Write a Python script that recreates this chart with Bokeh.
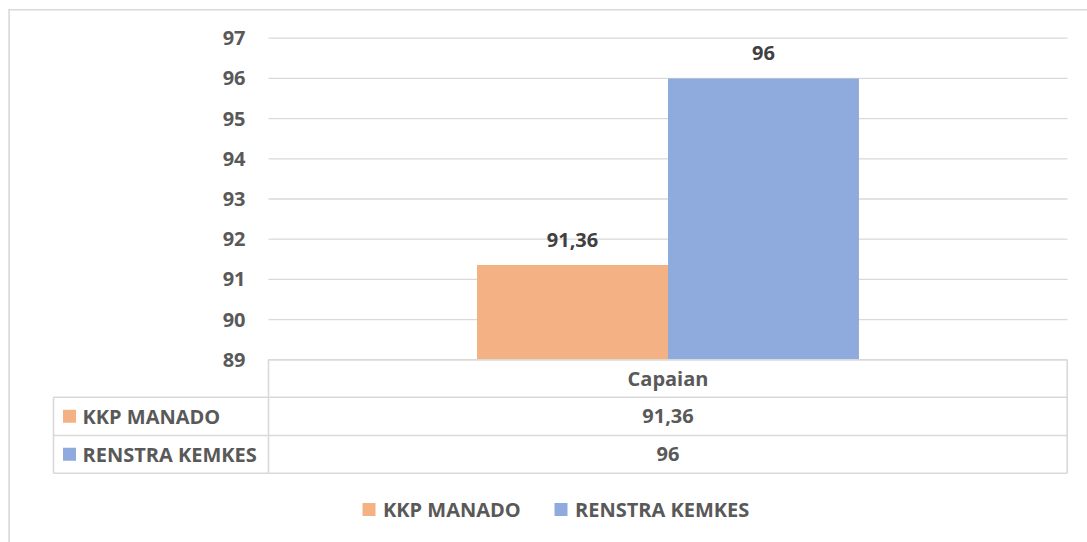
from bokeh.plotting import figure
from bokeh.models import Range1d
from bokeh.core.properties import value
from bokeh.embed import file_html
from bokeh.resources import INLINE

# ---- data ----
categories = ["Capaian"]
series_names = ["KKP MANADO", "RENSTRA KEMKES"]
kkp_manado = [91.36]
renstra_kemkes = [96]
y_ticks = [89, 90, 91, 92, 93, 94, 95, 96, 97]
colors = ["#F4B183", "#8FAADC"]

series_values = [kkp_manado, renstra_kemkes]


def fmt(v):
    return f"{v:g}".replace(".", ",")


# ---- geometry (canvas pixels) ----
W, H = 1087, 542
PL, PR = 268.0, 1067.0      # plot area left/right
PT, PB = 37.7, 359.3        # y of top tick / bottom tick
ymin, ymax = y_ticks[0], y_ticks[-1]
ppu_y = (PB - PT) / (ymax - ymin)
ppu_x = PR - PL

FONT = value("Open Sans")
TXT = "#595959"
GRID = "#D9D9D9"
FS = "20px"

p = figure(width=W, height=H, output_backend="svg", toolbar_location=None,
           x_range=Range1d(-PL / ppu_x, (W - PL) / ppu_x),
           y_range=Range1d(ymin - (H - PB) / ppu_y, ymax + PT / ppu_y),
           x_axis_location=None, y_axis_location=None,
           min_border=0, outline_line_color=None)
p.xgrid.visible = False
p.ygrid.visible = False
p.extra_x_ranges = {"px": Range1d(0, W)}
p.extra_y_ranges = {"px": Range1d(H, 0)}

# gridlines
p.segment(x0=[0] * len(y_ticks), x1=[1] * len(y_ticks), y0=y_ticks, y1=y_ticks,
          line_color=GRID, line_width=1.3)

# tick labels
p.text(x=[-23 / ppu_x] * len(y_ticks), y=y_ticks, text=[str(t) for t in y_ticks],
       text_align="right", text_baseline="middle", text_font=FONT,
       text_font_style="bold", text_font_size=FS, text_color=TXT)

# bars
bar_w = 0.239
n = len(series_values)
for i, (vals, col) in enumerate(zip(series_values, colors)):
    off = (i - (n - 1) / 2) * bar_w
    xs = [j + 0.5 + off for j in range(len(categories))]
    p.vbar(x=xs, width=bar_w, bottom=ymin, top=vals, fill_color=col, line_color=None)
    p.text(x=xs, y=[v + 25 / ppu_y for v in vals], text=[fmt(v) for v in vals],
           text_align="center", text_baseline="middle", text_font=FONT,
           text_font_style="bold", text_font_size=FS, text_color="#404040")

# ---- data table (pixel space) ----
TL, TD, TR = 53.0, PL, 1066.7
rows = [PB, 396.7, 435.0, 472.7]
lw = 1.6
p.segment(x0=[TD, TL, TL, TL], x1=[TR, TR, TR, TR],
          y0=rows, y1=rows,
          line_color=GRID, line_width=lw, x_range_name="px", y_range_name="px")
p.segment(x0=[TL, TD, TR], x1=[TL, TD, TR],
          y0=[rows[1], rows[0], rows[0]], y1=[rows[3], rows[3], rows[3]],
          line_color=GRID, line_width=lw, x_range_name="px", y_range_name="px")

cx = PL + 0.5 * ppu_x
p.text(x=[cx], y=[(rows[0] + rows[1]) / 2], text=categories, text_align="center",
       text_baseline="middle", text_font=FONT, text_font_style="bold",
       text_font_size=FS, text_color=TXT, x_range_name="px", y_range_name="px")
row_c = [(rows[k] + rows[k + 1]) / 2 for k in (1, 2)]
p.text(x=[cx] * n, y=row_c, text=[fmt(v[0]) for v in series_values],
       text_align="center", text_baseline="middle", text_font=FONT,
       text_font_style="bold", text_font_size=FS, text_color=TXT,
       x_range_name="px", y_range_name="px")
p.rect(x=[69] * n, y=row_c, width=13, height=13, fill_color=colors, line_color=None,
       x_range_name="px", y_range_name="px")
p.text(x=[82] * n, y=row_c, text=series_names, text_align="left",
       text_baseline="middle", text_font=FONT, text_font_style="bold",
       text_font_size=FS, text_color=TXT, x_range_name="px", y_range_name="px")

# ---- legend ----
lx_key = [368.5, 560.5]
ly = 509
p.rect(x=lx_key, y=[ly] * n, width=13, height=13, fill_color=colors, line_color=None,
       x_range_name="px", y_range_name="px")
p.text(x=[k + 14 for k in lx_key], y=[ly] * n, text=series_names, text_align="left",
       text_baseline="middle", text_font=FONT, text_font_style="bold",
       text_font_size=FS, text_color=TXT, x_range_name="px", y_range_name="px")

# outer chart border (left and top)
p.segment(x0=[8.6, 8], x1=[8.6, W], y0=[8.5, 9.3], y1=[H, 9.3], line_color=GRID,
          line_width=1.6, x_range_name="px", y_range_name="px")

open("out.html", "w").write(file_html(p, INLINE))
